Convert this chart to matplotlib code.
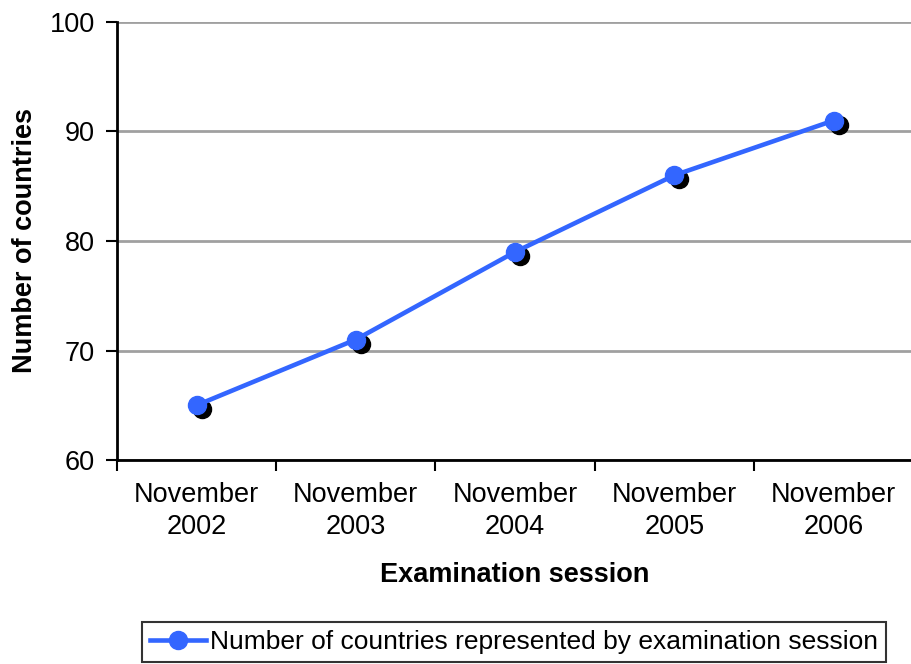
import matplotlib.pyplot as plt
import matplotlib.transforms as mtransforms

plt.rcParams['font.family'] = ['Liberation Sans', 'DejaVu Sans']

sessions = ['November\n2002', 'November\n2003', 'November\n2004', 'November\n2005', 'November\n2006']
countries = [65, 71, 79, 86, 91]

fig = plt.figure(figsize=(9.11, 6.64), dpi=100)
ax = fig.add_axes([0.1284, 0.3072, 0.874, 0.6597])

x = [i + 0.5 for i in range(len(sessions))]

# shadow under the markers
shadow = mtransforms.offset_copy(ax.transData, fig=fig, x=5, y=-4, units='dots')
ax.plot(x, countries, 'o', color='black', markersize=13, transform=shadow, zorder=3)
ax.plot(x, countries, '-o', color='#3366FF', linewidth=3.3, markersize=13,
        label='Number of countries represented by examination session', zorder=4)

ax.set_xlim(0, 5)
ax.set_ylim(60, 100)
ax.set_yticks([60, 70, 80, 90, 100])
ax.set_xticks(range(6))
ax.set_xticklabels([])
ax.set_xticks(x, minor=True)
ax.set_xticklabels(sessions, minor=True, fontsize=19.5, linespacing=1.3)
ax.tick_params(axis='x', which='minor', length=0, pad=16)
ax.tick_params(axis='x', which='major', length=8, width=1.5, direction='out')
ax.tick_params(axis='y', length=8, width=1.5, direction='out', labelsize=19.5, pad=8)

ax.yaxis.grid(True, color='#A0A0A0', linewidth=2)
ax.set_axisbelow(True)
for s in ['top', 'right']:
    ax.spines[s].set_visible(False)
for s in ['left', 'bottom']:
    ax.spines[s].set_linewidth(2)

ax.set_ylabel('Number of countries', fontsize=19.5, fontweight='bold', labelpad=8)
ax.set_xlabel('Examination session', fontsize=19.5, fontweight='bold', labelpad=16)

leg = fig.legend(loc='center', bbox_to_anchor=(514 / 911, 1 - 642 / 664), fontsize=19,
                 frameon=True, fancybox=False, edgecolor='black', borderpad=0.3,
                 handlelength=2.1, handletextpad=0.15, borderaxespad=0)
leg.get_frame().set_linewidth(1.5)

fig.savefig('out.png', dpi=100)
